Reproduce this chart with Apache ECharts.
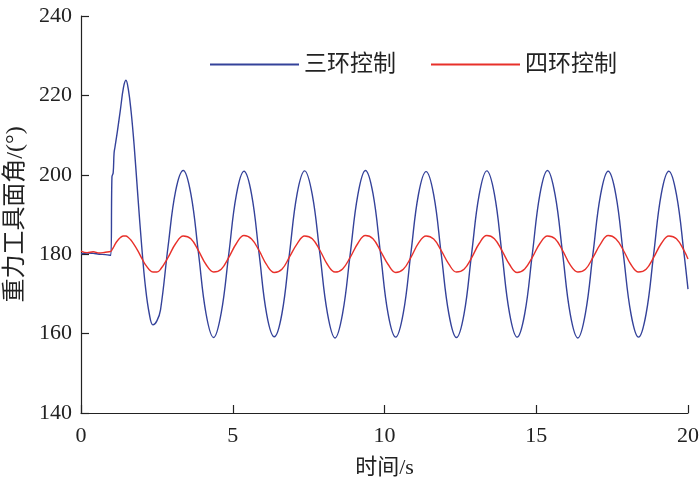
<!DOCTYPE html>
<html>
<head>
<meta charset="utf-8">
<script src="https://cdn.jsdelivr.net/npm/echarts@6/dist/echarts.min.js"></script>
<style>html,body{margin:0;padding:0;background:#fff}#c{width:700px;height:481px}</style>
</head>
<body>
<div id="c"></div>
<script>
const seriesNames = ['三环控制', '四环控制'];
const xTicks = [0, 5, 10, 15, 20];
const yTicks = [140, 160, 180, 200, 220, 240];

const time = [0, 0.2, 0.4, 0.6, 0.8, 0.98, 1.02, 1.06, 1.09, 1.12, 1.2, 1.3, 1.4, 1.48, 1.56, 1.65, 1.75, 1.87, 2.0, 2.12, 2.25, 2.37, 2.5,
  2.62, 2.87, 3.12, 3.37, 3.62, 3.87, 4.12, 4.37, 4.62, 4.87, 5.12, 5.37, 5.62, 5.87, 6.12, 6.37, 6.62, 6.87, 7.12,
  7.37, 7.62, 7.87, 8.12, 8.37, 8.62, 8.87, 9.12, 9.37, 9.62, 9.87, 10.12, 10.37, 10.62, 10.87, 11.12,
  11.37, 11.62, 11.87, 12.12, 12.37, 12.62, 12.87, 13.12, 13.37, 13.62, 13.87, 14.12, 14.37, 14.62, 14.87, 15.12,
  15.37, 15.62, 15.87, 16.12, 16.37, 16.62, 16.87, 17.12, 17.37, 17.62, 17.87, 18.12, 18.37, 18.62, 18.87, 19.12,
  19.37, 19.62, 19.87, 20];

const threeLoop = [180.1, 180.3, 180.2, 180.0, 179.9, 179.7, 199.5, 200.5, 205.5, 207, 211, 216.5, 222, 223.8, 221.5, 216, 207.5, 195, 182, 172, 165, 162.2, 163.2,
  166, 182, 196, 201.1, 195.2, 180.3, 165.0, 159.0, 165.2, 180.1, 195.0, 200.9, 195.1, 180.0, 164.8, 159.2, 165.0, 180.2, 195.2,
  201.0, 195.0, 180.2, 165.1, 158.9, 165.1, 180.0, 194.9, 201.1, 195.3, 180.1, 164.9, 159.1, 165.2, 180.3, 195.1,
  200.8, 195.0, 180.0, 165.0, 159.0, 164.9, 180.1, 195.0, 201.0, 195.2, 180.2, 165.1, 159.1, 165.0, 180.0, 195.1,
  201.1, 195.0, 180.1, 164.9, 158.9, 165.1, 180.2, 195.0, 200.9, 195.1, 180.0, 165.0, 159.1, 165.0, 180.1, 195.2,
  200.9, 195.0, 180.1, 171.2];

const fourLoop = [180.8, 180.4, 180.6, 180.3, 180.5, 180.7, 181.1, 181.6, 182.0, 182.5, 183.4, 184.2, 184.6, 184.6, 184.2, 183.5, 182.4, 180.9, 179.0, 177.4, 176.1, 175.5, 175.5,
  176.2, 179.2, 182.7, 184.6, 183.9, 180.9, 177.4, 175.5, 176.2, 179.2, 182.7, 184.7, 183.8, 180.9, 177.3, 175.4, 176.2, 179.3, 182.6,
  184.6, 183.9, 181.0, 177.4, 175.5, 176.3, 179.2, 182.7, 184.7, 183.9, 180.8, 177.4, 175.4, 176.2, 179.2, 182.8,
  184.6, 183.8, 180.9, 177.5, 175.5, 176.2, 179.1, 182.7, 184.7, 183.9, 180.9, 177.4, 175.4, 176.3, 179.2, 182.7,
  184.6, 183.9, 180.9, 177.3, 175.5, 176.2, 179.2, 182.6, 184.7, 183.9, 181.0, 177.4, 175.5, 176.2, 179.2, 182.7,
  184.6, 183.9, 180.9, 178.8];

const pairs = (vals) => time.map((t, i) => [t, vals[i]]);

const chart = echarts.init(document.getElementById('c'), null, {renderer: 'canvas'});
const serif = 'Liberation Serif, Times New Roman, Noto Sans CJK SC, serif';
const cjk = 'Liberation Serif, Noto Sans CJK SC, sans-serif';
chart.setOption({
  animation: false,
  backgroundColor: '#fff',
  grid: {left: 81, right: 12, top: 16, bottom: 68, containLabel: false, outerBoundsMode: 'none'},
  legend: {
    data: seriesNames,
    left: 210, top: 53, padding: 0,
    itemWidth: 89, itemHeight: 2, itemGap: 35,
    icon: 'rect',
    textStyle: {fontFamily: cjk, fontSize: 23, color: '#222'}
  },
  xAxis: {
    type: 'value', min: xTicks[0], max: xTicks[xTicks.length - 1], interval: 5,
    name: '时间/s', nameLocation: 'middle', nameGap: 44,
    nameTextStyle: {fontFamily: cjk, fontSize: 22, color: '#222'},
    axisLine: {show: true, lineStyle: {color: '#222', width: 1.2}},
    axisTick: {show: true, inside: true, length: 8, lineStyle: {color: '#222', width: 1.2}},
    axisLabel: {fontFamily: serif, fontSize: 22, color: '#222', margin: 12},
    splitLine: {show: false}
  },
  yAxis: {
    type: 'value', min: yTicks[0], max: yTicks[yTicks.length - 1], interval: 20,
    name: '重力工具面角/(°)', nameLocation: 'middle', nameGap: 53, nameRotate: 90,
    nameTextStyle: {fontFamily: cjk, fontSize: 24, color: '#222'},
    axisLine: {show: true, lineStyle: {color: '#222', width: 1.2}},
    axisTick: {show: true, inside: true, length: 8, lineStyle: {color: '#222', width: 1.2}},
    axisLabel: {fontFamily: serif, fontSize: 22, color: '#222', margin: 9},
    splitLine: {show: false}
  },
  series: [
    {name: seriesNames[0], type: 'line', data: pairs(threeLoop), showSymbol: false, smooth: 0.4,
     lineStyle: {color: '#34429a', width: 1.4}, itemStyle: {color: '#34429a'}},
    {name: seriesNames[1], type: 'line', data: pairs(fourLoop), showSymbol: false, smooth: 0.4,
     lineStyle: {color: '#e8302a', width: 1.4}, itemStyle: {color: '#e8302a'}}
  ]
});
</script>
</body>
</html>
